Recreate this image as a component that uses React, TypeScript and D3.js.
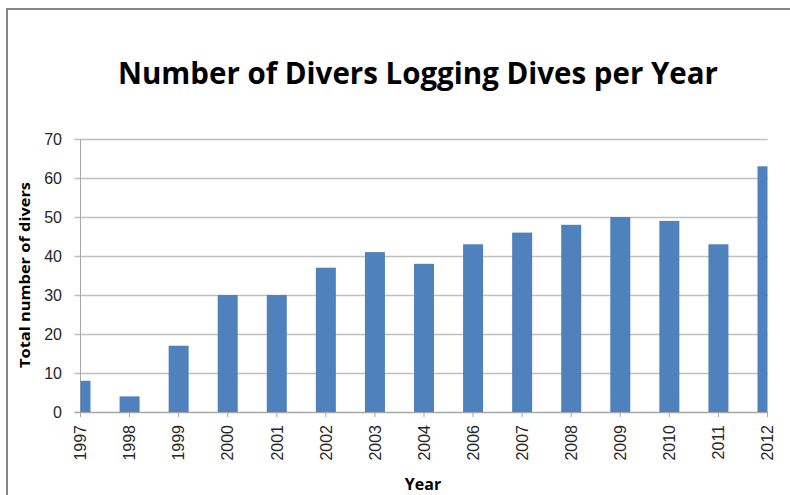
import React from "react";
import * as d3 from "d3";

const years = ["1997", "1998", "1999", "2000", "2001", "2002", "2003", "2004", "2006", "2007", "2008", "2009", "2010", "2011", "2012"];
const divers = [8, 4, 17, 30, 30, 37, 41, 38, 43, 46, 48, 50, 49, 43, 63];
const yTicks = [0, 10, 20, 30, 40, 50, 60, 70];

const title = "Number of Divers Logging Dives per Year";
const yTitle = "Total number of divers";
const xTitle = "Year";

const W = 790;
const H = 495;
const plot = { left: 80.5, right: 767.5, top: 139, bottom: 412 };
const barWidth = 20;
const font = "'Open Sans', 'DejaVu Sans', sans-serif";
const tickFont = "'Liberation Sans', Arial, sans-serif";

export default function App() {
  const x = d3.scalePoint<string>().domain(years).range([plot.left, plot.right]);
  const y = d3.scaleLinear().domain([0, 70]).range([plot.bottom, plot.top]);

  return (
    <svg width={W} height={H} style={{ position: "absolute", left: 0, top: 0 }}>
      <rect x={0} y={0} width={W} height={H} fill="#fff" />
      <rect x={7} y={9} width={W + 10} height={H + 10} fill="none" stroke="#868686" strokeWidth={2} />
      <text x={418} y={84} textAnchor="middle" fontFamily={font} fontWeight="bold" fontSize={31}
        textLength={600} lengthAdjust="spacingAndGlyphs" fill="#000">{title}</text>

      <defs>
        <clipPath id="plotClip">
          <rect x={plot.left} y={plot.top - 5} width={plot.right - plot.left} height={plot.bottom - plot.top + 5} />
        </clipPath>
      </defs>

      {yTicks.map((t) => (
        <g key={t}>
          <line x1={plot.left - 6} x2={plot.right} y1={Math.round(y(t)) + 0.5} y2={Math.round(y(t)) + 0.5}
            stroke={t === 0 ? "#a6a6a6" : "#bfbfbf"} strokeWidth={1.5} />
          <text x={62} y={y(t)} dy="0.36em" textAnchor="end" fontFamily={tickFont} fontSize={16} fill="#262626">{t}</text>
        </g>
      ))}
      <line x1={plot.left} x2={plot.left} y1={plot.top} y2={plot.bottom} stroke="#a6a6a6" strokeWidth={1} />

      <g clipPath="url(#plotClip)">
        {years.map((yr, i) => (
          <rect key={yr} x={(x(yr) as number) - barWidth / 2} y={y(divers[i])} width={barWidth}
            height={y(0) - y(divers[i])} fill="#4f81bd" />
        ))}
      </g>

      {years.map((yr) => (
        <g key={yr}>
          <line x1={x(yr)} x2={x(yr)} y1={plot.bottom} y2={plot.bottom + 5} stroke="#a6a6a6" strokeWidth={1} />
          <text transform={`translate(${x(yr)},${plot.bottom + 13}) rotate(-90)`} dy="0.36em" textAnchor="end"
            fontFamily={tickFont} fontSize={16} fill="#262626">{yr}</text>
        </g>
      ))}

      <text transform={`translate(30,275) rotate(-90)`} textAnchor="middle" fontFamily={font} fontWeight="bold"
        fontSize={15} textLength={186} lengthAdjust="spacingAndGlyphs" fill="#000">{yTitle}</text>
      <text x={423} y={490} textAnchor="middle" fontFamily={font} fontWeight="bold" fontSize={16} fill="#000">{xTitle}</text>
    </svg>
  );
}
